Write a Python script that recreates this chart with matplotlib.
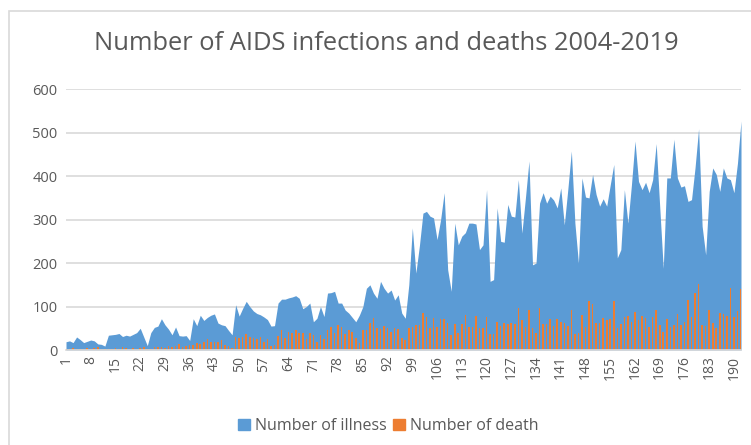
import numpy as np
import matplotlib
matplotlib.use("Agg")
import matplotlib.pyplot as plt
from matplotlib.patches import Rectangle

plt.rcParams['font.family'] = ['Open Sans', 'DejaVu Sans']

title = "Number of AIDS infections and deaths 2004-2019"
series_names = ["Number of illness", "Number of death"]

illness = [
    19, 21, 17, 30, 24, 17, 20, 23, 21, 14, 13, 9, 34, 35, 36, 38, 31, 34, 32, 36,
    40, 50, 30, 10, 40, 52, 55, 72, 58, 48, 35, 53, 33, 32, 33, 22, 72, 56, 80, 68,
    75, 80, 83, 62, 58, 56, 45, 35, 104, 78, 96, 112, 100, 90, 84, 81, 76, 70, 55, 56,
    108, 117, 117, 120, 122, 125, 119, 95, 100, 108, 65, 73, 100, 77, 131, 132, 135, 108, 108, 92,
    85, 75, 65, 80, 100, 142, 150, 131, 119, 158, 142, 131, 138, 115, 127, 85, 73, 150, 281, 177,
    240, 315, 319, 308, 304, 254, 300, 362, 185, 135, 292, 242, 262, 270, 292, 292, 290, 231, 242, 369,
    158, 162, 327, 250, 248, 335, 308, 306, 392, 269, 350, 435, 196, 200, 338, 362, 338, 354, 345, 327,
    373, 288, 370, 458, 292, 200, 396, 352, 350, 404, 358, 331, 348, 331, 380, 427, 212, 231, 369, 292,
    380, 481, 388, 369, 386, 362, 392, 475, 330, 188, 396, 396, 485, 396, 375, 378, 342, 346, 420, 509,
    285, 219, 365, 419, 404, 365, 419, 396, 392, 362, 430, 527,
]

death = [
    3, 2, 4, 2, 3, 2, 5, 3, 4, 6, 3, 2, 2, 3, 5, 3, 6, 4, 3, 5,
    2, 4, 6, 2, 3, 6, 8, 7, 5, 9, 6, 10, 13, 8, 10, 12, 11, 15, 14, 19,
    25, 18, 19, 18, 22, 12, 10, 4, 29, 27, 31, 37, 31, 27, 25, 31, 19, 25, 10, 12,
    32, 46, 27, 42, 40, 45, 40, 40, 25, 38, 35, 19, 35, 25, 46, 52, 38, 58, 54, 37,
    45, 42, 27, 15, 45, 46, 62, 73, 50, 48, 55, 50, 42, 50, 48, 27, 23, 50, 52, 58,
    58, 85, 75, 50, 73, 52, 71, 71, 63, 35, 59, 40, 60, 81, 54, 52, 79, 50, 50, 75,
    37, 37, 64, 55, 62, 60, 63, 60, 96, 69, 52, 92, 50, 40, 96, 60, 59, 71, 55, 71,
    65, 62, 55, 92, 37, 40, 81, 54, 112, 106, 63, 63, 73, 68, 71, 112, 50, 60, 75, 78,
    65, 88, 69, 78, 73, 52, 75, 92, 58, 42, 71, 54, 58, 83, 58, 65, 115, 75, 132, 152,
    58, 55, 91, 63, 50, 85, 82, 78, 142, 77, 90, 140,
]

periods = np.arange(1, len(illness) + 1)
tick_labels = [str(p) for p in range(1, 192, 7)]
y_ticks = [0, 100, 200, 300, 400, 500, 600]

blue = "#5B9BD5"
orange = "#ED7D31"
text_gray = "#595959"
grid_gray = "#D9D9D9"

W, H = 751, 445
fig = plt.figure(figsize=(W / 100, H / 100), dpi=100)
ax = fig.add_axes([66 / W, 1 - 350 / H, (741 - 66) / W, (350 - 89.3) / H])

ax.fill_between(periods, illness, 0, color=blue, linewidth=0, zorder=2,
                label=series_names[0])
ax.bar(periods, death, width=0.45, color=orange, linewidth=0, zorder=3,
       label=series_names[1])

ax.set_xlim(1, len(illness))
ax.set_ylim(0, 600)
ax.set_yticks(y_ticks)
ax.set_yticklabels([str(v) for v in y_ticks], fontsize=10.5, color=text_gray)
ax.set_xticks([int(t) for t in tick_labels])
ax.set_xticklabels(tick_labels, rotation=90, fontsize=10, color=text_gray)
ax.tick_params(axis='both', length=0, pad=6)
ax.tick_params(axis='x', pad=4)

ax.grid(axis='y', color=grid_gray, linewidth=1.2, zorder=0)
ax.set_axisbelow(True)
for side in ['top', 'right', 'left']:
    ax.spines[side].set_visible(False)
ax.spines['bottom'].set_color(grid_gray)
ax.spines['bottom'].set_linewidth(1.2)
ax.spines['bottom'].set_zorder(4)

fig.text(386 / W, 1 - 44 / H, title, ha='center', va='center',
         fontsize=18.4, color=text_gray)

handles = [Rectangle((0, 0), 1, 1, color=blue), Rectangle((0, 0), 1, 1, color=orange)]
fig.legend(handles, series_names, loc='center', bbox_to_anchor=(388 / W, 1 - 426 / H),
           ncol=2, frameon=False, fontsize=11.5, handlelength=0.75, handleheight=0.75,
           handletextpad=0.3, columnspacing=0.4, labelcolor=text_gray)

fig.patches.append(Rectangle((9 / W, -0.1), 1.0, 1 - 11 / H + 0.1,
                             transform=fig.transFigure, fill=False,
                             edgecolor=grid_gray, linewidth=1.2))

fig.savefig("out.png", dpi=100, facecolor="white")
